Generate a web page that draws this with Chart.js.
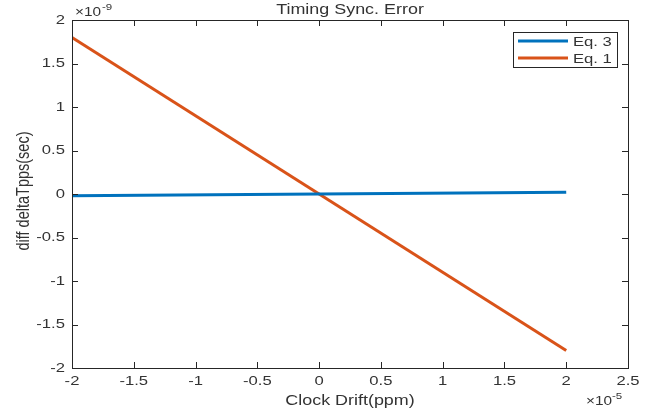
<!DOCTYPE html>
<html>
<head>
<meta charset="utf-8">
<script src="https://cdn.jsdelivr.net/npm/chart.js@4"></script>
<style>
  html, body { margin: 0; padding: 0; background: #fff; }
  #wrap { width: 655px; height: 415px; }
</style>
</head>
<body>
<div id="wrap"><canvas id="chart" width="655" height="415"></canvas></div>
<script>
// data (x in 1e-5 ppm, y in 1e-9 sec)
const drift = [-2, 2];
const eq3 = [-0.02, 0.02];
const eq1 = [1.8, -1.8];
const seriesNames = ['Eq. 3', 'Eq. 1'];
const xTicks = [-2, -1.5, -1, -0.5, 0, 0.5, 1, 1.5, 2, 2.5];
const yTicks = [-2, -1.5, -1, -0.5, 0, 0.5, 1, 1.5, 2];

const FONT = '"Liberation Sans", Arial, sans-serif';
const INK = '#333';
const blue = '#0072BD';
const orange = '#D95319';
const STRETCH = 1.28; // the reference text is widened horizontally

function toPoints(ys) {
    return drift.map((x, i) => ({ x: x, y: ys[i] }));
}

// text with horizontal stretch; align: 'left' | 'center' | 'right'
function wideText(ctx, str, x, y, align) {
    const w = ctx.measureText(str).width * STRETCH;
    let x0 = x;
    if (align === 'center') x0 = x - w / 2;
    if (align === 'right') x0 = x - w;
    ctx.save();
    ctx.translate(x0, y);
    ctx.scale(STRETCH, 1);
    ctx.textAlign = 'left';
    ctx.fillText(str, 0, 0);
    ctx.restore();
}

// box, inward ticks, labels, exponents and legend drawn the matlab way
const matlabFrame = {
    id: 'matlabFrame',
    afterDraw(chart) {
        const ctx = chart.ctx;
        const a = chart.chartArea;
        const xs = chart.scales.x, ys = chart.scales.y;
        ctx.save();
        ctx.strokeStyle = '#262626';
        ctx.lineWidth = 1;
        ctx.strokeRect(a.left + 0.5, a.top + 0.5, a.right - a.left, a.bottom - a.top);
        ctx.beginPath();
        xTicks.forEach(v => {
            const px = Math.round(xs.getPixelForValue(v)) + 0.5;
            ctx.moveTo(px, a.bottom); ctx.lineTo(px, a.bottom - 6);
            ctx.moveTo(px, a.top); ctx.lineTo(px, a.top + 6);
        });
        yTicks.forEach(v => {
            const py = Math.round(ys.getPixelForValue(v)) + 0.5;
            ctx.moveTo(a.left, py); ctx.lineTo(a.left + 6, py);
            ctx.moveTo(a.right, py); ctx.lineTo(a.right - 6, py);
        });
        ctx.stroke();

        ctx.fillStyle = INK;
        ctx.textBaseline = 'middle';
        ctx.font = '13px ' + FONT;
        // tick labels
        xTicks.forEach(v => wideText(ctx, String(v), xs.getPixelForValue(v), a.bottom + 13, 'center'));
        yTicks.forEach(v => wideText(ctx, String(v), a.left - 7, ys.getPixelForValue(v), 'right'));

        // exponents
        ctx.textBaseline = 'alphabetic';
        ctx.font = '12px ' + FONT;
        wideText(ctx, '\u00d710', 75, 16, 'left');
        ctx.font = '9px ' + FONT;
        wideText(ctx, '-9', 102, 10, 'left');
        ctx.font = '12px ' + FONT;
        wideText(ctx, '\u00d710', 586, 405, 'left');
        ctx.font = '9px ' + FONT;
        wideText(ctx, '-5', 612, 399, 'left');

        // title and axis labels
        ctx.textBaseline = 'middle';
        ctx.font = '14px ' + FONT;
        wideText(ctx, 'Timing Sync. Error', (a.left + a.right) / 2, 10, 'center');
        wideText(ctx, 'Clock Drift(ppm)', (a.left + a.right) / 2, 401, 'center');
        ctx.save();
        ctx.translate(24, 191);
        ctx.rotate(-Math.PI / 2);
        ctx.scale(1, STRETCH);
        ctx.textAlign = 'center';
        ctx.font = '14.5px ' + FONT;
        ctx.fillText('diff deltaTpps(sec)', 0, 0);
        ctx.restore();

        // legend
        const lx = 513, ly = 32, lw = 104, lh = 35;
        ctx.fillStyle = '#fff';
        ctx.fillRect(lx, ly, lw, lh);
        ctx.strokeStyle = '#262626';
        ctx.lineWidth = 1;
        ctx.strokeRect(lx + 0.5, ly + 0.5, lw, lh);
        const colors = [blue, orange];
        ctx.font = '13px ' + FONT;
        seriesNames.forEach((name, i) => {
            const yy = ly + 9 + i * 17;
            ctx.strokeStyle = colors[i];
            ctx.lineWidth = 3;
            ctx.beginPath();
            ctx.moveTo(lx + 5, yy);
            ctx.lineTo(lx + 55, yy);
            ctx.stroke();
            ctx.fillStyle = INK;
            wideText(ctx, name, lx + 60, yy + 1, 'left');
        });
        ctx.restore();
    }
};

const ctx = document.getElementById('chart').getContext('2d');
new Chart(ctx, {
    type: 'line',
    data: {
        datasets: [
            { label: seriesNames[0], data: toPoints(eq3), borderColor: blue, borderWidth: 3, pointRadius: 0, fill: false },
            { label: seriesNames[1], data: toPoints(eq1), borderColor: orange, borderWidth: 3, pointRadius: 0, fill: false }
        ]
    },
    options: {
        responsive: false,
        animation: false,
        layout: { padding: { top: 20, right: 27, left: 0, bottom: 0 } },
        plugins: {
            legend: { display: false },
            tooltip: { enabled: false }
        },
        scales: {
            x: {
                type: 'linear',
                min: -2, max: 2.5,
                grid: { display: false },
                border: { display: false },
                afterBuildTicks: s => { s.ticks = xTicks.map(v => ({ value: v })); },
                afterFit: s => { s.height = 47; },
                ticks: { display: false }
            },
            y: {
                type: 'linear',
                min: -2, max: 2,
                grid: { display: false },
                border: { display: false },
                afterBuildTicks: s => { s.ticks = yTicks.map(v => ({ value: v })); },
                afterFit: s => { s.width = 72; },
                ticks: { display: false }
            }
        }
    },
    plugins: [matlabFrame]
});
</script>
</body>
</html>
